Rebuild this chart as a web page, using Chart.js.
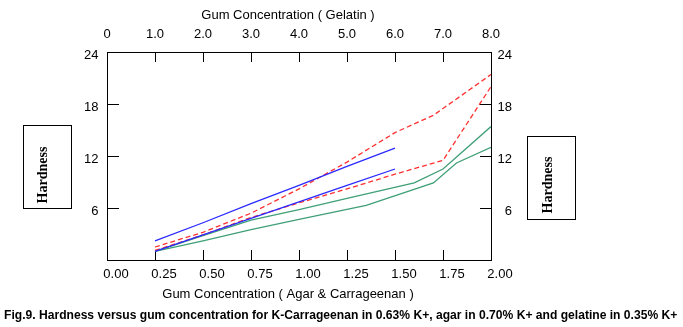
<!DOCTYPE html>
<html>
<head>
<meta charset="utf-8">
<script src="https://cdn.jsdelivr.net/npm/chart.js@4"></script>
<style>
    body { margin: 0; background: #fff; }
    #wrap { position: relative; width: 683px; height: 327px; }
    #caption {
        position: absolute; left: 4px; top: 308px;
        font: bold 13.5px 'Liberation Sans Narrow', Arial, sans-serif;
        line-height: 14px; white-space: nowrap; color: #000;
        transform-origin: 0 0;
    }
</style>
</head>
<body>
<div id="wrap">
    <canvas id="chart" width="683" height="327"></canvas>
    <div id="caption">Fig.9. Hardness versus gum concentration for K-Carrageenan in 0.63% K+, agar in 0.70% K+ and gelatine in 0.35% K+</div>
</div>
<script>
// values (x on the agar & carrageenan scale)
const blueX = [0.25, 0.5, 0.75, 1.0, 1.25, 1.5];
const blueUpper = [2.2, 4.3, 6.5, 8.6, 10.8, 12.9];
const blueLower = [1.0, 2.9, 4.8, 6.7, 8.6, 10.5];

const redUpperX = [0.25, 0.5, 0.75, 1.0, 1.25, 1.5, 1.7, 2.0];
const redUpper = [1.5, 3.2, 5.4, 8.2, 11.3, 14.7, 16.7, 21.4];
const redLowerX = [0.25, 0.5, 0.75, 1.0, 1.25, 1.5, 1.75, 2.0];
const redLower = [1.1, 2.9, 4.9, 6.6, 8.2, 9.9, 11.5, 20.0];

const greenUpperX = [0.25, 0.5, 0.75, 1.0, 1.25, 1.6, 1.75, 2.0];
const greenUpper = [1.0, 2.8, 4.6, 5.8, 7.1, 8.9, 10.5, 15.4];
const greenLowerX = [0.25, 0.5, 0.75, 1.0, 1.35, 1.7, 1.82, 2.0];
const greenLower = [1.0, 2.2, 3.5, 4.7, 6.3, 8.9, 11.2, 13.0];

const bottomRange = [0, 2];
const topRange = [0, 8];
const hardnessRange = [0, 24];

const axisTitleTop = 'Gum Concentration ( Gelatin )';
const axisTitleBottom = 'Gum Concentration ( Agar & Carrageenan )';
const yTitle = 'Hardness';

const BLUE = '#2a2aff';
const RED = '#ff3030';
const GREEN = '#3f9f77';
const FONT = { family: 'Arial, "Liberation Sans", sans-serif', size: 13 };

function pts(xs, ys) {
    return xs.map((x, i) => ({ x: x, y: ys[i] }));
}

function series(xs, ys, color, dashed) {
    return {
        data: pts(xs, ys),
        borderColor: color,
        borderWidth: 1.3,
        borderDash: dashed ? [5, 3] : [],
        pointRadius: 0,
        tension: 0,
        fill: false
    };
}

// boxes with "Hardness" and the two axis titles
const decorations = {
    id: 'decorations',
    afterDraw(chart) {
        const ctx = chart.ctx;
        const area = chart.chartArea;
        ctx.save();
        ctx.strokeStyle = '#000';
        ctx.lineWidth = 1;
        ctx.strokeRect(23.5, 125.5, 48, 83);
        ctx.strokeRect(527.5, 136.5, 48, 83);

        ctx.fillStyle = '#000';
        ctx.font = 'bold 14px "Liberation Serif", "Times New Roman", serif';
        ctx.textAlign = 'center';
        ctx.textBaseline = 'middle';
        [[43, 175], [548, 185]].forEach(p => {
            ctx.save();
            ctx.translate(p[0], p[1]);
            ctx.rotate(-Math.PI / 2);
            ctx.fillText(yTitle, 0, 0);
            ctx.restore();
        });

        ctx.font = '13px ' + FONT.family;
        const cx = area.left + 181;
        ctx.fillText(axisTitleTop, cx, 15);
        ctx.fillText(axisTitleBottom, cx, 294);
        ctx.restore();
    }
};

const tickGrid = len => ({
    drawOnChartArea: false,
    drawTicks: true,
    tickLength: -len,
    color: '#000',
    lineWidth: 1
});
const border = { display: true, color: '#000', width: 1 };

new Chart(document.getElementById('chart'), {
    type: 'line',
    data: {
        datasets: [
            series(blueX, blueUpper, BLUE, false),
            series(blueX, blueLower, BLUE, false),
            series(redUpperX, redUpper, RED, true),
            series(redLowerX, redLower, RED, true),
            series(greenUpperX, greenUpper, GREEN, false),
            series(greenLowerX, greenLower, GREEN, false)
        ]
    },
    options: {
        responsive: false,
        animation: false,
        devicePixelRatio: 1,
        layout: { padding: { left: 0, right: 171, top: 0, bottom: 0 } },
        plugins: { legend: { display: false }, tooltip: { enabled: false } },
        scales: {
            x: {
                type: 'linear', position: 'bottom',
                min: bottomRange[0], max: bottomRange[1],
                grid: tickGrid(10), border: border,
                ticks: {
                    stepSize: 0.25, color: '#000', font: FONT,
                    padding: 16.5, labelOffset: 9, maxRotation: 0, autoSkip: false,
                    callback: v => v.toFixed(2)
                },
                afterFit: s => { s.height = 67; }
            },
            x2: {
                type: 'linear', position: 'top',
                min: topRange[0], max: topRange[1],
                grid: tickGrid(10), border: border,
                ticks: {
                    stepSize: 1, color: '#000', font: FONT,
                    padding: 20, maxRotation: 0, autoSkip: false,
                    callback: v => v === 0 ? '0' : v.toFixed(1)
                },
                afterFit: s => { s.height = 52; }
            },
            y: {
                type: 'linear', position: 'left',
                min: hardnessRange[0], max: hardnessRange[1],
                grid: tickGrid(12), border: border,
                ticks: {
                    stepSize: 6, color: '#000', font: FONT,
                    padding: 20.5, labelOffset: 3,
                    callback: v => v === 0 ? null : v
                },
                afterFit: s => { s.width = 107; }
            },
            y2: {
                type: 'linear', position: 'right',
                min: hardnessRange[0], max: hardnessRange[1],
                grid: tickGrid(11), border: border,
                ticks: {
                    stepSize: 6, color: '#000', font: FONT,
                    crossAlign: 'far', labelOffset: 3,
                    callback: v => v === 0 ? null : v
                },
                afterFit: s => { s.width = 21; }
            }
        }
    },
    plugins: [decorations]
});

// squeeze the caption to the width it has in the figure
const cap = document.getElementById('caption');
cap.style.transform = 'scaleX(' + (673 / cap.offsetWidth) + ')';
</script>
</body>
</html>
